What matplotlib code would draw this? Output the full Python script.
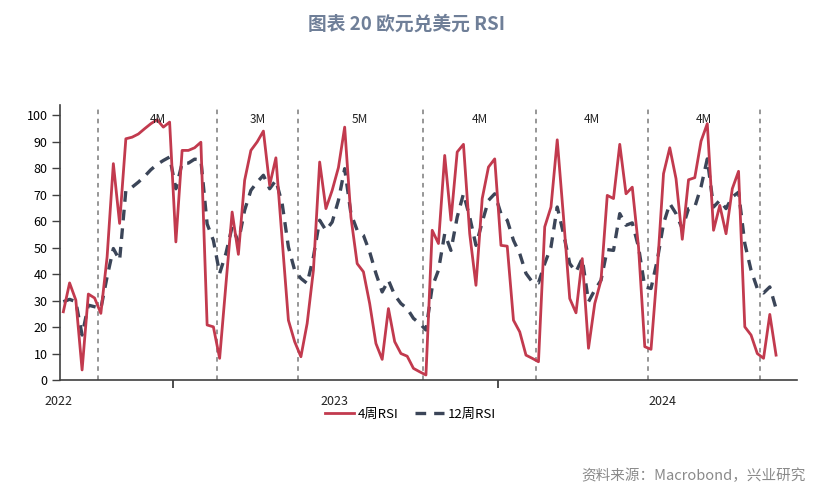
import numpy as np
import matplotlib.pyplot as plt

plt.rcParams['font.family'] = ['Noto Sans CJK SC', 'DejaVu Sans']

# weekly readings
rsi4 = [25.8, 36.7, 30.2, 3.8, 32.5, 31.0, 25.2, 46.5, 81.8, 59.2,
        91.2, 91.8, 93.0, 95.0, 96.9, 98.4, 95.6, 97.5, 52.2, 86.8,
        86.8, 87.8, 89.9, 20.8, 20.1, 8.2, 36.0, 63.5, 47.5, 75.5,
        86.8, 90.0, 94.1, 73.6, 84.0, 53.0, 22.6, 14.5, 8.8, 21.4,
        41.5, 82.4, 64.8, 71.7, 80.3, 95.6, 61.6, 44.0, 40.9, 28.9,
        13.8, 7.8, 27.0, 14.5, 10.0, 9.0, 4.4, 3.1, 1.9, 56.6,
        51.6, 84.9, 60.4, 86.2, 89.1, 55.3, 35.8, 68.6, 80.5, 83.6,
        50.9, 50.6, 22.6, 18.2, 9.4, 8.2, 6.9, 57.9, 65.4, 90.8,
        61.6, 30.8, 25.4, 45.9, 12.0, 28.9, 37.7, 69.8, 68.6, 89.1,
        70.4, 72.9, 50.3, 12.6, 11.6, 41.5, 78.0, 87.8, 76.1, 53.2,
        75.7, 76.5, 90.3, 96.9, 56.6, 66.0, 55.3, 72.3, 78.9, 20.1,
        17.0, 10.0, 8.2, 24.8, 9.4]

rsi12 = [29.6, 30.5, 29.6, 17.0, 28.3, 27.7, 27.0, 39.0, 49.7, 45.3,
         71.7, 72.9, 74.8, 77.0, 79.5, 81.5, 83.0, 84.3, 72.3, 82.0,
         82.0, 83.5, 83.2, 59.0, 52.8, 40.3, 47.8, 57.9, 52.2, 64.2,
         71.7, 74.8, 77.4, 72.3, 75.5, 66.7, 50.3, 41.5, 38.4, 36.5,
         46.5, 60.4, 56.6, 59.7, 67.9, 79.9, 62.9, 56.6, 54.7, 48.4,
         40.3, 33.3, 37.7, 32.1, 28.9, 27.0, 23.3, 21.4, 18.9, 35.2,
         41.5, 55.3, 49.0, 61.6, 70.4, 61.6, 50.9, 59.7, 67.9, 70.4,
         62.9, 60.4, 52.8, 47.8, 40.3, 37.1, 36.7, 44.0, 50.3, 65.4,
         55.3, 44.0, 40.9, 45.9, 29.6, 34.0, 37.7, 49.3, 49.0, 62.9,
         58.5, 59.4, 50.3, 35.2, 34.6, 45.3, 59.1, 66.7, 62.9, 57.2,
         64.8, 65.4, 73.0, 83.6, 65.4, 67.9, 64.8, 69.2, 71.0, 51.6,
         41.5, 34.6, 32.9, 35.2, 27.0]

# cycle boundaries (week index) and their lengths
boundaries = [5.55, 24.6, 37.5, 57.5, 75.6, 93.5, 111.4]
cycle_labels = ['4M', '3M', '5M', '4M', '4M', '4M']

year_labels = ['2022', '2023', '2024']
year_pos = [-0.7, 43.3, 95.9]
year_ticks = [17.55, 69.5]

weeks = np.arange(len(rsi4))

fig = plt.figure(figsize=(8.29, 4.93), dpi=100)
ax = fig.add_axes([0.0724, 0.2292, 0.889, 0.558])

red = '#C23A4E'
navy = '#3B4558'

ax.plot(weeks, rsi4, color=red, lw=2.0, label='4周RSI', zorder=3)
ax.plot(weeks, rsi12, color=navy, lw=2.4, ls=(0, (3.2, 2.4)), label='12周RSI', zorder=2)

for b in boundaries:
    ax.axvline(b, color='#7a7a7a', lw=1.1, ls=(0, (3, 3)), zorder=1)
for i, lab in enumerate(cycle_labels):
    mid = (boundaries[i] + boundaries[i + 1]) / 2
    ax.text(mid, 98.5, lab, ha='center', va='center', fontsize=8.5, color='#222222')

ax.set_xlim(-0.53, 117.35)
ax.set_ylim(0, 104)
ax.set_yticks(range(0, 101, 10))
ax.tick_params(axis='y', labelsize=9, length=6, width=1, color='#404040', pad=3)
ax.set_xticks(year_ticks)
ax.set_xticklabels([])
ax.tick_params(axis='x', length=6, width=1.2, color='#303030')
for p, lab in zip(year_pos, year_labels):
    ax.text(p, -5.5, lab, ha='center', va='top', fontsize=9, color='#222222')

for s in ['top', 'right']:
    ax.spines[s].set_visible(False)
for s in ['left', 'bottom']:
    ax.spines[s].set_color('#404040')
    ax.spines[s].set_linewidth(1.2)

fig.legend(loc='center', bbox_to_anchor=(0.495, 0.16), ncol=2, frameon=False,
           fontsize=9.5, handlelength=2.2, columnspacing=1.2, handletextpad=0.3)

fig.text(0.49, 0.952, '图表 20 欧元兑美元 RSI', ha='center', va='center',
         fontsize=13.5, fontweight='bold', color='#6F7F98')
fig.text(0.972, 0.034, '资料来源：Macrobond，兴业研究', ha='right', va='center',
         fontsize=10.5, color='#8a8a8a')

fig.savefig('out.png', dpi=100)
